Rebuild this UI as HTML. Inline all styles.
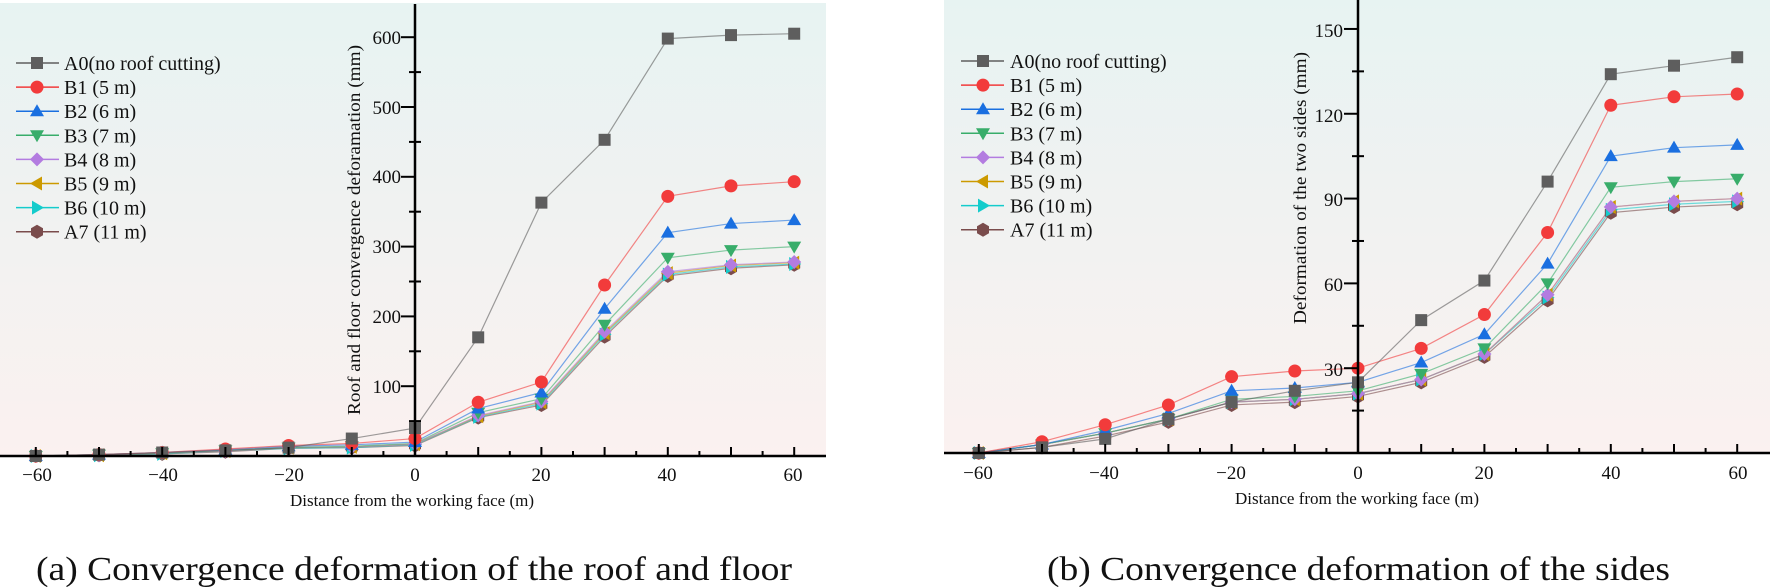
<!DOCTYPE html>
<html><head><meta charset="utf-8"><style>
html,body{margin:0;padding:0;background:#fff}
svg{display:block}
text{font-family:"Liberation Serif",serif;fill:#111}
</style></head><body>
<svg id="s" width="1770" height="587" viewBox="0 0 1770 587" xmlns="http://www.w3.org/2000/svg">
<defs>
<linearGradient id="bg" x1="0" y1="0" x2="0" y2="1">
<stop offset="0" stop-color="#e7f3f2"/><stop offset="1" stop-color="#fbf1f0"/>
</linearGradient>
</defs>
<rect x="0" y="3" width="826" height="453" fill="url(#bg)"/>
<rect x="944" y="0" width="826" height="453" fill="url(#bg)"/>
<g id="plots"></g>
<g font-size="19">
<text x="37" y="481" text-anchor="middle">−60</text>
<text x="163" y="481" text-anchor="middle">−40</text>
<text x="289" y="481" text-anchor="middle">−20</text>
<text x="415" y="481" text-anchor="middle">0</text>
<text x="541" y="481" text-anchor="middle">20</text>
<text x="667" y="481" text-anchor="middle">40</text>
<text x="793" y="481" text-anchor="middle">60</text>
<text x="401" y="393" text-anchor="end">100</text>
<text x="401" y="323" text-anchor="end">200</text>
<text x="401" y="253" text-anchor="end">300</text>
<text x="401" y="183" text-anchor="end">400</text>
<text x="401" y="114" text-anchor="end">500</text>
<text x="401" y="44" text-anchor="end">600</text>
<text x="978" y="479" text-anchor="middle">−60</text>
<text x="1104" y="479" text-anchor="middle">−40</text>
<text x="1231" y="479" text-anchor="middle">−20</text>
<text x="1358" y="479" text-anchor="middle">0</text>
<text x="1484" y="479" text-anchor="middle">20</text>
<text x="1611" y="479" text-anchor="middle">40</text>
<text x="1738" y="479" text-anchor="middle">60</text>
<text x="1343" y="376" text-anchor="end">30</text>
<text x="1343" y="291" text-anchor="end">60</text>
<text x="1343" y="206" text-anchor="end">90</text>
<text x="1343" y="122" text-anchor="end">120</text>
<text x="1343" y="37" text-anchor="end">150</text>
<text x="412" y="506" text-anchor="middle" font-size="17">Distance from the working face (m)</text>
<text x="1357" y="504" text-anchor="middle" font-size="17">Distance from the working face (m)</text>
<text transform="translate(360,230) rotate(-90)" text-anchor="middle" font-size="18" textLength="370" lengthAdjust="spacingAndGlyphs">Roof and floor convergence deforamation (mm)</text>
<text transform="translate(1306,188) rotate(-90)" text-anchor="middle" font-size="18" textLength="272" lengthAdjust="spacingAndGlyphs">Deformation of the two sides (mm)</text>
</g>
<g id="leg" font-size="20"></g>
<text x="36" y="580" font-size="34" textLength="756" lengthAdjust="spacingAndGlyphs">(a) Convergence deformation of the roof and floor</text>
<text x="1047" y="580" font-size="34" textLength="623" lengthAdjust="spacingAndGlyphs">(b) Convergence deformation of the sides</text>
</svg>
<script>
var NS="http://www.w3.org/2000/svg";
function el(p,t,a){var e=document.createElementNS(NS,t);for(var k in a)e.setAttribute(k,a[k]);p.appendChild(e);return e;}
var S=[{n:"A0(no roof cutting)",c:"#5e5e5e",m:"sq"},{n:"B1 (5 m)",c:"#f23b3b",m:"ci"},{n:"B2 (6 m)",c:"#1a6fe0",m:"tu"},{n:"B3 (7 m)",c:"#38ad6a",m:"td"},{n:"B4 (8 m)",c:"#b37ce0",m:"di"},{n:"B5 (9 m)",c:"#cc9a00",m:"tl"},{n:"B6 (10 m)",c:"#14cccc",m:"tr"},{n:"A7 (11 m)",c:"#7a4c4c",m:"hx"}];
var L=[[0,2,5,8,12,25,40,170,363,453,598,603,605],[0,2,5,10,15,18,25,77,106,245,372,387,393],[0,2,5,9,14,16,20,68,91,211,320,333,338],[0,2,4,8,12,14,18,62,82,188,284,295,300],[0,1,4,7,12,13,17,58,78,178,264,274,278],[0,1,4,7,12,13,17,57,77,176,262,273,277],[0,1,3,7,11,12,16,56,75,174,260,271,275],[0,1,3,6,11,12,15,55,73,171,258,269,274]];
var R=[[0,2,5,12,18,22,25,47,61,96,134,137,140],[0,4,10,17,27,29,30,37,49,78,123,126,127],[0,3,8,14,22,23,25,32,42,67,105,108,109],[0,3,7,12,19,20,22,28,37,60,94,96,97],[0,3,7,12,18,19,21,26,35,56,87,89,90],[0,3,7,12,18,19,21,26,35,56,87,89,90],[0,3,7,12,18,19,21,26,35,55,86,88,89],[0,2,6,11,17,18,20,25,34,54,85,87,88]];
function mk(g,m,x,y,c){var r=6.5;
 if(m=="sq")el(g,"rect",{x:x-6,y:y-6,width:12,height:12,fill:c});
 else if(m=="ci")el(g,"circle",{cx:x,cy:y,r:r,fill:c});
 else{var p;
 if(m=="tu")p=[[0,-7],[7,5],[-7,5]];else if(m=="td")p=[[0,7],[7,-5],[-7,-5]];
 else if(m=="tl")p=[[-7,0],[5,-7],[5,7]];else if(m=="tr")p=[[7,0],[-5,-7],[-5,7]];
 else if(m=="di")p=[[0,-7],[7,0],[0,7],[-7,0]];
 else p=[[0,-7],[6,-3.5],[6,3.5],[0,7],[-6,3.5],[-6,-3.5]];
 el(g,"polygon",{points:p.map(function(q){return (x+q[0])+","+(y+q[1])}).join(" "),fill:c});}}
var G=document.getElementById("plots");
function plot(D,x0,y0,sy){
 for(var i=D.length-1;i>=0;i--){var pts=D[i].map(function(v,j){return [x0+(j-6)*63.2,y0-v*sy]});
  el(G,"polyline",{points:pts.map(function(p){return p.join(",")}).join(" "),fill:"none",stroke:S[i].c,"stroke-width":1.2,"stroke-opacity":0.6});}
 for(var i=D.length-1;i>=0;i--){D[i].forEach(function(v,j){mk(G,S[i].m,x0+(j-6)*63.2,y0-v*sy,S[i].c)});}
}
plot(L,415,456,0.698);
plot(R,1358,453,2.827);
function axes(x0,y0,xa,xb,yt,sy,step,maxv){
 el(G,"line",{x1:xa,y1:y0,x2:xb,y2:y0,stroke:"#000","stroke-width":2.5});
 el(G,"line",{x1:x0,y1:y0,x2:x0,y2:yt,stroke:"#000","stroke-width":2.5});
 for(var k=-12;k<=12;k++){var x=x0+k*31.6;var h=(k%2==0)?9:5;el(G,"line",{x1:x,y1:y0,x2:x,y2:y0-h,stroke:"#000","stroke-width":2});}
 for(var v=step/2;v<=maxv;v+=step/2){var y=y0-v*sy;var maj=Math.abs(v/step-Math.round(v/step))<1e-6;
  el(G,"line",{x1:x0-(maj?14:6),y1:y,x2:x0+(maj?0:6),y2:y,stroke:"#000","stroke-width":2});}
}
axes(415,456,0,826,4,0.698,100,640);
axes(1358,453,944,1770,0,2.827,30,158);
var LG=document.getElementById("leg");
function legend(x1,x2,xm,xt,y,ds){S.forEach(function(s,i){var yy=y+i*ds;
 el(LG,"line",{x1:x1,y1:yy,x2:x2,y2:yy,stroke:s.c,"stroke-width":1.5});mk(LG,s.m,xm,yy,s.c);
 var t=el(LG,"text",{x:xt,y:yy+7});t.textContent=s.n;});}
legend(16,59,37,64,63,24.1);
legend(961,1004,983,1010,61,24.1);
</script>
</body></html>
